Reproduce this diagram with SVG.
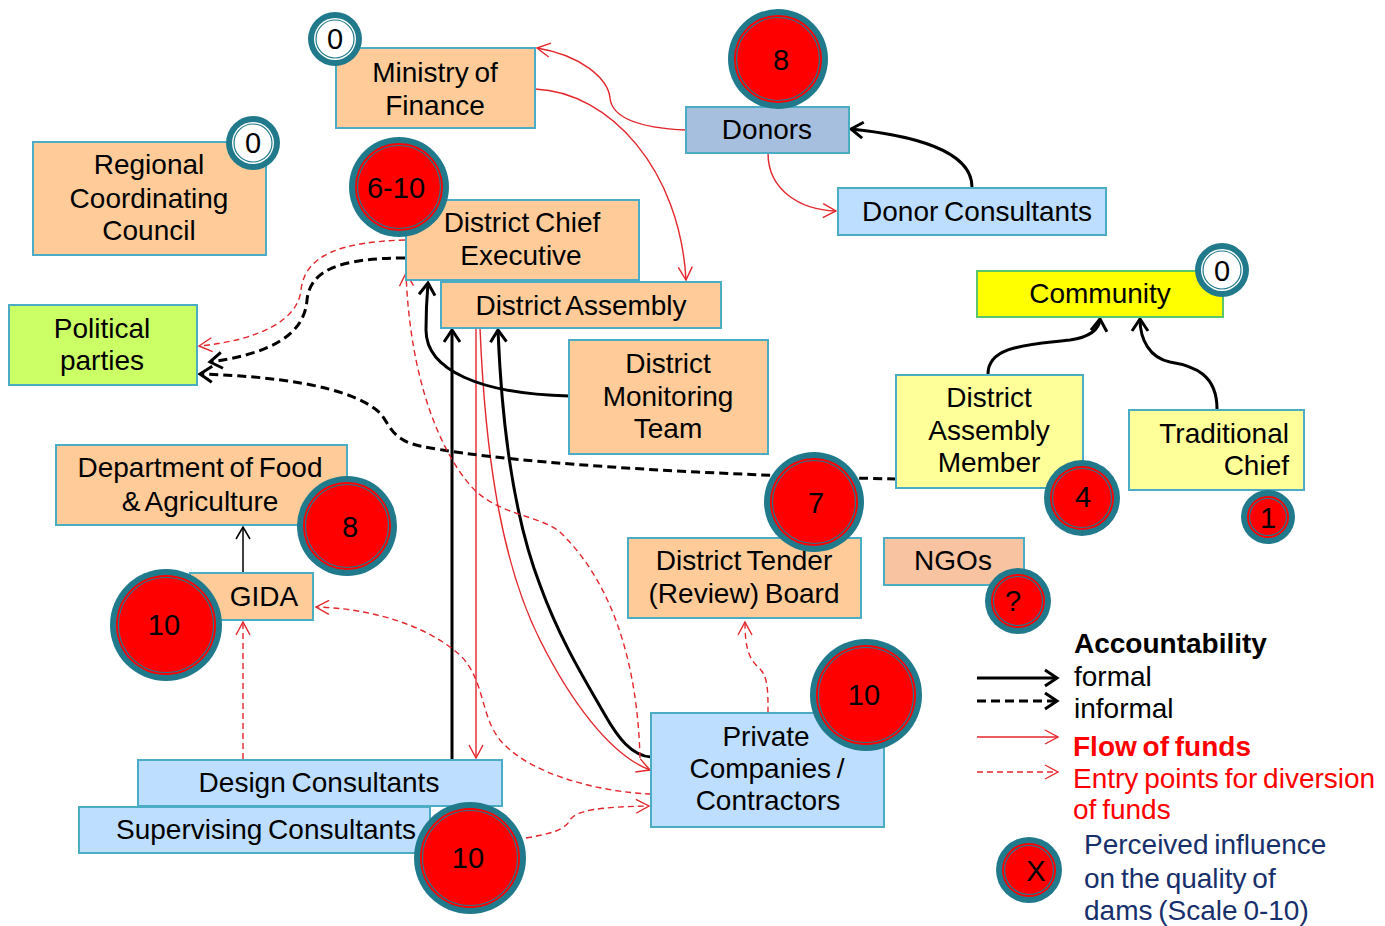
<svg xmlns="http://www.w3.org/2000/svg" width="1385" height="926" viewBox="0 0 1385 926">
  <style>
    .box { stroke: #4BACC6; stroke-width: 2; }
    .peach { fill: #FFCC99; }
    .blue { fill: #BDDEFF; }
    .donor { fill: #A7BFDF; }
    .lime { fill: #CCFF66; }
    .paleyellow { fill: #FFFF99; }
    .ngo { fill: #F7C3A0; }
    .lbl { font-family: "Liberation Sans", Arial, sans-serif; font-size: 28px; fill: #000; text-anchor: middle; word-spacing: -2px; }
    .num { font-family: "Liberation Sans", Arial, sans-serif; font-size: 29px; fill: #000; text-anchor: middle; }
    .ring { fill: #217A8C; }
    .red { fill: #FF0000; }
    .white { fill: #FFFFFF; }
    .inner { fill: none; stroke: #217A8C; stroke-width: 1.2; }
    .formal { fill: none; stroke: #000; stroke-width: 3; marker-end: url(#ah-black); }
    .formal-thin { fill: none; stroke: #000; stroke-width: 1.5; marker-end: url(#ah-black-thin); }
    .informal { fill: none; stroke: #000; stroke-width: 3; stroke-dasharray: 9 5; marker-end: url(#ah-black); }
    .funds { fill: none; stroke: #E3262B; stroke-width: 1.4; marker-end: url(#ah-red); }
    .divert { fill: none; stroke: #E3262B; stroke-width: 1.4; stroke-dasharray: 6 4; marker-end: url(#ah-red); }
    .leg { font-family: "Liberation Sans", Arial, sans-serif; font-size: 28px; word-spacing: -2px; }
  </style>
  <defs>
    <marker id="ah-black" viewBox="0 0 20 20" refX="17" refY="10" markerWidth="20" markerHeight="20" markerUnits="userSpaceOnUse" orient="auto">
      <path d="M5,2 L17,10 L5,18" fill="none" stroke="#000" stroke-width="3"/>
    </marker>
    <marker id="ah-black-thin" viewBox="0 0 20 20" refX="17" refY="10" markerWidth="20" markerHeight="20" markerUnits="userSpaceOnUse" orient="auto">
      <path d="M5,3 L17,10 L5,17" fill="none" stroke="#000" stroke-width="1.5"/>
    </marker>
    <marker id="ah-red" viewBox="0 0 20 20" refX="17" refY="10" markerWidth="20" markerHeight="20" markerUnits="userSpaceOnUse" orient="auto">
      <path d="M4,3 L17,10 L4,17" fill="none" stroke="#E3262B" stroke-width="1.4"/>
    </marker>
  </defs>

  <rect width="1385" height="926" fill="#FFFFFF"/>

  <!-- connectors -->
  <g id="connectors">
    <!-- flow of funds -->
    <path class="funds" d="M686,130 C640,128 612,118 610,98 C608,78 580,55 537,48"/>
    <path class="funds" d="M535,89 C610,92 680,170 686,280"/>
    <path class="funds" d="M768,153 C768,190 800,210 836,211"/>
    <path class="funds" d="M476,328 L476,758"/>
    <path class="funds" d="M480,328 C485,450 500,560 540,640 C570,700 610,755 650,770"/>
    <!-- formal accountability -->
    <path class="formal" d="M452,759 L452,330"/>
    <path class="formal" d="M651,757 C632,756 618,738 605,715 C585,680 560,640 540,585 C515,520 502,430 498,330"/>
    <path class="formal" d="M569,396 C480,394 426,370 426,330 C426,310 427,295 428,283"/>
    <path class="formal" d="M972,187 C972,150 910,135 851,129"/>
    <path class="formal" d="M988,374 C988,345 1030,345 1070,340 C1090,337 1099,330 1100,319"/>
    <path class="formal" d="M1217,409 C1217,375 1195,366 1170,362 C1150,358 1140,340 1140,319"/>
    <path class="formal-thin" d="M243,573 L243,527"/>
    <!-- informal accountability -->
    <path class="informal" d="M405,258 C340,258 310,270 307,300 C304,340 260,355 210,362"/>
    <path class="informal" d="M896,479 C750,476 520,466 420,446 C392,440 390,425 380,413 C350,385 270,376 200,374"/>
    <!-- entry points for diversion of funds -->
    <path class="divert" d="M405,240 C340,242 305,255 301,290 C298,320 260,340 199,346"/>
    <path class="divert" d="M640,758 C638,680 620,590 560,532 C540,515 495,515 470,485 C440,450 410,380 406,273"/>
    <path class="divert" d="M651,794 C600,792 530,775 500,740 C480,715 485,680 460,655 C420,620 360,608 316,607"/>
    <path class="divert" d="M526,838 C550,834 565,830 570,820 C576,810 600,807 649,806"/>
    <path class="divert" d="M243,759 L243,622"/>
    <path class="divert" d="M768,713 C768,690 768,675 758,667 C748,658 745,645 745,622"/>
  </g>

  <!-- Ministry of Finance -->
  <g id="ministry-of-finance">
    <rect class="box peach" x="336" y="48" width="199" height="80"/>
    <text class="lbl" x="435" y="82">Ministry of</text>
    <text class="lbl" x="435" y="115">Finance</text>
    <circle class="ring" cx="335" cy="39" r="27"/>
    <circle class="white" cx="335" cy="39" r="21"/>
    <circle class="inner" cx="335" cy="39" r="19"/>
    <text class="num" x="335" y="49">0</text>
  </g>

  <!-- Regional Coordinating Council -->
  <g id="regional-coordinating-council">
    <rect class="box peach" x="33" y="142" width="233" height="113"/>
    <text class="lbl" x="149" y="174">Regional</text>
    <text class="lbl" x="149" y="208">Coordinating</text>
    <text class="lbl" x="149" y="240">Council</text>
    <circle class="ring" cx="253" cy="143" r="27"/>
    <circle class="white" cx="253" cy="143" r="21"/>
    <circle class="inner" cx="253" cy="143" r="19"/>
    <text class="num" x="253" y="153">0</text>
  </g>

  <!-- Donors -->
  <g id="donors">
    <rect class="box donor" x="686" y="107" width="163" height="46"/>
    <text class="lbl" x="767" y="139">Donors</text>
    <circle class="ring" cx="778" cy="59" r="50"/>
    <circle class="red" cx="778" cy="59" r="44"/>
    <circle class="inner" cx="778" cy="59" r="41.5"/>
    <text class="num" x="781" y="70">8</text>
  </g>

  <!-- Donor Consultants -->
  <g id="donor-consultants">
    <rect class="box blue" x="838" y="188" width="268" height="47"/>
    <text class="lbl" x="977" y="221">Donor Consultants</text>
  </g>

  <!-- District Chief Executive -->
  <g id="district-chief-executive">
    <rect class="box peach" x="406" y="200" width="233" height="80"/>
    <text class="lbl" x="522" y="232">District Chief</text>
    <text class="lbl" x="521" y="265">Executive</text>
    <circle class="ring" cx="399" cy="187" r="50"/>
    <circle class="red" cx="399" cy="187" r="44"/>
    <circle class="inner" cx="399" cy="187" r="41.5"/>
    <text class="num" x="396" y="198">6-10</text>
  </g>

  <!-- District Assembly -->
  <g id="district-assembly">
    <rect class="box peach" x="441" y="282" width="280" height="46"/>
    <text class="lbl" x="581" y="315">District Assembly</text>
  </g>

  <!-- Political parties -->
  <g id="political-parties">
    <rect class="box lime" x="9" y="305" width="188" height="80"/>
    <text class="lbl" x="102" y="338">Political</text>
    <text class="lbl" x="102" y="370">parties</text>
  </g>

  <!-- District Monitoring Team -->
  <g id="district-monitoring-team">
    <rect class="box peach" x="569" y="340" width="199" height="114"/>
    <text class="lbl" x="668" y="373">District</text>
    <text class="lbl" x="668" y="406">Monitoring</text>
    <text class="lbl" x="668" y="438">Team</text>
  </g>

  <!-- Community -->
  <g id="community">
    <rect x="977" y="271" width="246" height="46" fill="#FFFF00" stroke="#5CC46A" stroke-width="2"/>
    <text class="lbl" x="1100" y="303">Community</text>
    <circle class="ring" cx="1222" cy="270" r="27"/>
    <circle class="white" cx="1222" cy="270" r="21"/>
    <circle class="inner" cx="1222" cy="270" r="19"/>
    <text class="num" x="1222" y="281">0</text>
  </g>

  <!-- District Assembly Member -->
  <g id="district-assembly-member">
    <rect class="box paleyellow" x="896" y="375" width="187" height="113"/>
    <text class="lbl" x="989" y="407">District</text>
    <text class="lbl" x="989" y="440">Assembly</text>
    <text class="lbl" x="989" y="472">Member</text>
    <circle class="ring" cx="1082" cy="498" r="38"/>
    <circle class="red" cx="1082" cy="498" r="32"/>
    <circle class="inner" cx="1082" cy="498" r="29.5"/>
    <text class="num" x="1083" y="507">4</text>
  </g>

  <!-- Traditional Chief -->
  <g id="traditional-chief">
    <rect class="box paleyellow" x="1129" y="410" width="175" height="80"/>
    <text class="lbl" x="1289" y="443" style="text-anchor:end">Traditional</text>
    <text class="lbl" x="1289" y="475" style="text-anchor:end">Chief</text>
    <circle class="ring" cx="1268" cy="517" r="27"/>
    <circle class="red" cx="1268" cy="517" r="21"/>
    <circle class="inner" cx="1268" cy="517" r="18.5"/>
    <text class="num" x="1268" y="528">1</text>
  </g>

  <!-- Department of Food & Agriculture -->
  <g id="department-of-food-agriculture">
    <rect class="box peach" x="56" y="445" width="291" height="80"/>
    <text class="lbl" x="200" y="477">Department of Food</text>
    <text class="lbl" x="200" y="511">&amp; Agriculture</text>
    <circle class="ring" cx="347" cy="526" r="50"/>
    <circle class="red" cx="347" cy="526" r="44"/>
    <circle class="inner" cx="347" cy="526" r="41.5"/>
    <text class="num" x="350" y="537">8</text>
  </g>

  <!-- GIDA -->
  <g id="gida">
    <rect class="box peach" x="190" y="573" width="123" height="47"/>
    <text class="lbl" x="264" y="606">GIDA</text>
    <circle class="ring" cx="166" cy="625" r="56"/>
    <circle class="red" cx="166" cy="625" r="50"/>
    <circle class="inner" cx="166" cy="625" r="47.5"/>
    <text class="num" x="164" y="635">10</text>
  </g>

  <!-- District Tender (Review) Board -->
  <g id="district-tender-board">
    <rect class="box peach" x="628" y="538" width="233" height="80"/>
    <text class="lbl" x="744" y="570">District Tender</text>
    <text class="lbl" x="744" y="603">(Review) Board</text>
    <circle class="ring" cx="814" cy="502" r="50"/>
    <circle class="red" cx="814" cy="502" r="44"/>
    <circle class="inner" cx="814" cy="502" r="41.5"/>
    <text class="num" x="816" y="513">7</text>
  </g>

  <!-- NGOs -->
  <g id="ngos">
    <rect class="box ngo" x="884" y="538" width="140" height="47"/>
    <text class="lbl" x="953" y="570">NGOs</text>
    <circle class="ring" cx="1018" cy="601" r="33"/>
    <circle class="red" cx="1018" cy="601" r="27"/>
    <circle class="inner" cx="1018" cy="601" r="24.5"/>
    <text class="num" x="1013" y="611">?</text>
  </g>

  <!-- Private Companies / Contractors -->
  <g id="private-companies">
    <rect class="box blue" x="651" y="713" width="233" height="114"/>
    <text class="lbl" x="766" y="746">Private</text>
    <text class="lbl" x="767" y="778">Companies /</text>
    <text class="lbl" x="768" y="810">Contractors</text>
    <circle class="ring" cx="866" cy="695" r="56"/>
    <circle class="red" cx="866" cy="695" r="50"/>
    <circle class="inner" cx="866" cy="695" r="47.5"/>
    <text class="num" x="864" y="705">10</text>
  </g>

  <!-- Design Consultants -->
  <g id="design-consultants">
    <rect class="box blue" x="138" y="760" width="364" height="46"/>
    <text class="lbl" x="319" y="792">Design Consultants</text>
  </g>

  <!-- Supervising Consultants -->
  <g id="supervising-consultants">
    <rect class="box blue" x="79" y="807" width="351" height="46"/>
    <text class="lbl" x="266" y="839">Supervising Consultants</text>
    <circle class="ring" cx="470" cy="858" r="56"/>
    <circle class="red" cx="470" cy="858" r="50"/>
    <circle class="inner" cx="470" cy="858" r="47.5"/>
    <text class="num" x="468" y="868">10</text>
  </g>

  <!-- legend -->
  <g id="legend">
    <text class="leg" x="1074" y="653" font-weight="bold" fill="#000">Accountability</text>
    <path class="formal" d="M977,678 L1057,678"/>
    <text class="leg" x="1074" y="686" fill="#000">formal</text>
    <path class="informal" d="M977,701 L1057,701"/>
    <text class="leg" x="1074" y="718" fill="#000">informal</text>
    <path class="funds" d="M977,737 L1058,737"/>
    <text class="leg" x="1073" y="756" font-weight="bold" fill="#FF0000">Flow of funds</text>
    <path class="divert" d="M977,772 L1058,772"/>
    <text class="leg" x="1073" y="788" fill="#FF0000">Entry points for diversion</text>
    <text class="leg" x="1073" y="819" fill="#FF0000">of funds</text>
    <circle class="ring" cx="1029" cy="870" r="33"/>
    <circle class="red" cx="1029" cy="870" r="27"/>
    <circle class="inner" cx="1029" cy="870" r="24.5"/>
    <text class="num" x="1036" y="881">X</text>
    <text class="leg" x="1084" y="854" fill="#17306B">Perceived influence</text>
    <text class="leg" x="1084" y="888" fill="#17306B">on the quality of</text>
    <text class="leg" x="1084" y="920" fill="#17306B">dams (Scale 0-10)</text>
  </g>
</svg>
